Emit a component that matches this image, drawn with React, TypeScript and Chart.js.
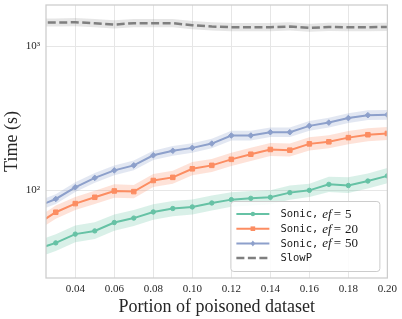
import React, { useEffect, useRef } from "react";
import { Chart, registerables } from "chart.js";
Chart.register(...registerables);

// ---------- data ----------
const portion = [0.02, 0.03, 0.04, 0.05, 0.06, 0.07, 0.08, 0.09, 0.1, 0.11, 0.12, 0.13, 0.14, 0.15, 0.16, 0.17, 0.18, 0.19, 0.2];

const ef5 = [38.9, 43.2, 49.7, 52.3, 59.8, 64.2, 70.8, 74.8, 76.7, 81.7, 86.2, 88.0, 89.5, 96.4, 100, 110, 108, 116, 126];
const ef5Lo = [34, 38, 43.6, 46, 52.5, 56.5, 62.5, 66, 68, 72.5, 77, 78.5, 80, 86, 90, 97.5, 96, 103, 112];
const ef5Hi = [44.5, 49.5, 57, 60, 68, 73, 80, 84.5, 86.5, 92, 97, 99, 100, 108, 111, 124, 123, 131, 143];

const ef20 = [57.7, 70.5, 80.9, 89.5, 99, 98, 117, 123, 141, 149, 164, 178, 192, 190, 210, 217, 232, 243, 248];
const ef20Lo = [52, 63.5, 73, 80.5, 89, 88, 105.5, 111, 127, 134, 147.5, 160, 173, 171.5, 189, 195.5, 209, 219, 223];
const ef20Hi = [64, 78.5, 90, 99.5, 110, 109, 130, 136.5, 157, 165, 182, 197.5, 213, 211.5, 233, 241, 257.5, 270, 275];

const ef50 = [76.7, 87.1, 105, 122, 137.5, 149, 175, 188, 197, 211, 240, 240, 253, 253, 280, 295, 317, 332, 334];
const ef50Lo = [71, 80.5, 97.5, 113, 127, 138, 162, 174, 182, 195.5, 222, 222, 234, 234, 259, 273, 293.5, 308, 309];
const ef50Hi = [83, 94, 114, 132, 148.5, 161, 188.5, 203, 212.5, 228, 259, 259, 273, 273, 302, 318.5, 342, 359, 361];

const slowP = [1456, 1456, 1465, 1442, 1411, 1442, 1442, 1442, 1397, 1366, 1353, 1353, 1353, 1366, 1338, 1359, 1353, 1353, 1359];
const slowPLo = [1367, 1367, 1376, 1354, 1325, 1354, 1354, 1354, 1312, 1283, 1270, 1270, 1270, 1283, 1256, 1276, 1270, 1270, 1276];
const slowPHi = [1558, 1558, 1568, 1543, 1510, 1543, 1543, 1543, 1495, 1462, 1448, 1448, 1448, 1462, 1432, 1454, 1448, 1448, 1454];

const xTicks = [0.04, 0.06, 0.08, 0.1, 0.12, 0.14, 0.16, 0.18, 0.2];
const xTickLabels = ["0.04", "0.06", "0.08", "0.10", "0.12", "0.14", "0.16", "0.18", "0.20"];
const yTicks = [100, 1000];
const yTickLabels = ["10²", "10³"];

const legendMethod = ["Sonic,", "Sonic,", "Sonic,", "SlowP"];
const legendEf = ["5", "20", "50", ""];

// ---------- styles ----------
const SERIF = "'Liberation Serif', 'Times New Roman', serif";
const MONO = "'DejaVu Sans Mono', monospace";
const TEXT = "#262626";
const GREEN = "#66c2a5";
const ORANGE = "#fc8d62";
const BLUE = "#8da0cb";
const GREY = "#7f7f7f";

function pts(ys: number[]) {
  return portion.map((x, i) => ({ x, y: ys[i] }));
}

function series(label: string, mean: number[], lo: number[], hi: number[], color: string, band: string, pointStyle: any, radius: number, dash: number[]) {
  return [
    { label: label + " hi", data: pts(hi), borderColor: "transparent", borderWidth: 0, pointRadius: 0, fill: "+1", backgroundColor: band, order: 3, clip: 0, tension: 0 },
    { label: label + " lo", data: pts(lo), borderColor: "transparent", borderWidth: 0, pointRadius: 0, fill: false, order: 3, clip: 0, tension: 0 },
    {
      label,
      data: pts(mean),
      borderColor: color,
      backgroundColor: color,
      borderWidth: dash.length ? 2.5 : 2,
      borderDash: dash,
      pointStyle,
      pointRadius: radius,
      pointBorderWidth: 1,
      pointBorderColor: color,
      pointBackgroundColor: color,
      fill: false,
      order: 1,
      clip: 0,
      tension: 0,
    },
  ];
}

const framePlugin = {
  id: "frame",
  afterDatasetsDraw(chart: any) {
    const { ctx, chartArea: a } = chart;
    ctx.save();
    ctx.strokeStyle = "#cccccc";
    ctx.lineWidth = 1.25;
    ctx.strokeRect(a.left, a.top, a.right - a.left, a.bottom - a.top);
    ctx.restore();
  },
};

const legendPlugin = {
  id: "customLegend",
  afterDraw(chart: any) {
    const { ctx, chartArea: a } = chart;
    const w = 149, h = 70;
    const x = a.right - 7.5 - w;
    const y = a.bottom - 6.5 - h;
    ctx.save();
    ctx.beginPath();
    if (ctx.roundRect) ctx.roundRect(x, y, w, h, 3);
    else ctx.rect(x, y, w, h);
    ctx.fillStyle = "rgba(255,255,255,0.85)";
    ctx.fill();
    ctx.strokeStyle = "#cccccc";
    ctx.lineWidth = 1;
    ctx.stroke();

    const colors = [GREEN, ORANGE, BLUE, GREY];
    const styles = ["circle", "rect", "diamond", "none"];
    for (let i = 0; i < 4; i++) {
      const ry = y + 12.5 + i * 14.7;
      const x0 = x + 5.5, x1 = x + 38.5, xm = (x0 + x1) / 2;
      ctx.strokeStyle = colors[i];
      ctx.fillStyle = colors[i];
      ctx.lineWidth = i === 3 ? 2.5 : 2;
      ctx.setLineDash(i === 3 ? [8, 3.5] : []);
      ctx.beginPath();
      ctx.moveTo(x0, ry);
      ctx.lineTo(x1, ry);
      ctx.stroke();
      ctx.setLineDash([]);
      ctx.beginPath();
      if (styles[i] === "circle") {
        ctx.arc(xm, ry, 2.2, 0, Math.PI * 2);
        ctx.fill();
      } else if (styles[i] === "rect") {
        ctx.rect(xm - 2.3, ry - 2.3, 4.6, 4.6);
        ctx.fill();
      } else if (styles[i] === "diamond") {
        ctx.moveTo(xm, ry - 3);
        ctx.lineTo(xm + 2.3, ry);
        ctx.lineTo(xm, ry + 3);
        ctx.lineTo(xm - 2.3, ry);
        ctx.closePath();
        ctx.fill();
      }
      // text
      ctx.fillStyle = "#1a1a1a";
      ctx.textBaseline = "middle";
      ctx.textAlign = "left";
      let tx = x + 49.5;
      ctx.font = `10.5px ${MONO}`;
      ctx.fillText(legendMethod[i], tx, ry + 0.5);
      if (legendEf[i]) {
        tx += ctx.measureText(legendMethod[i]).width + 4;
        ctx.font = `italic 13px ${SERIF}`;
        ctx.fillText("ef", tx, ry + 0.5);
        tx += ctx.measureText("ef").width + 2;
        ctx.font = `13px ${SERIF}`;
        ctx.fillText("=", tx, ry + 0.5);
        tx += ctx.measureText("=").width + 4;
        ctx.fillText(legendEf[i], tx, ry + 0.5);
      }
    }
    ctx.restore();
  },
};

export default function App() {
  const ref = useRef<HTMLCanvasElement | null>(null);
  useEffect(() => {
    if (!ref.current) return;
    const datasets: any[] = [
      ...series("Sonic, ef=5", ef5, ef5Lo, ef5Hi, GREEN, "rgba(102,194,165,0.25)", "circle", 2.2, []),
      ...series("Sonic, ef=20", ef20, ef20Lo, ef20Hi, ORANGE, "rgba(252,141,98,0.25)", "rect", 3.2, []),
      ...series("Sonic, ef=50", ef50, ef50Lo, ef50Hi, BLUE, "rgba(141,160,203,0.25)", "rectRot", 2.8, []),
      ...series("SlowP", slowP, slowPLo, slowPHi, GREY, "rgba(128,128,128,0.2)", "circle", 0, [8, 3.5]),
    ];
    const chart = new Chart(ref.current, {
      type: "line",
      data: { datasets },
      options: {
        animation: false,
        responsive: false,
        devicePixelRatio: 1,
        layout: { padding: { top: 4, right: 14, left: 0, bottom: 0 } },
        plugins: { legend: { display: false }, tooltip: { enabled: false } },
        scales: {
          x: {
            type: "linear",
            min: 0.025,
            max: 0.2,
            afterBuildTicks: (s: any) => {
              s.ticks = xTicks.map((v) => ({ value: v }));
            },
            afterFit: (s: any) => {
              s.height = 41;
            },
            ticks: {
              autoSkip: false,
              maxRotation: 0,
              padding: 5,
              color: TEXT,
              font: { family: SERIF, size: 11 },
              callback: (_v: any, i: number) => xTickLabels[i],
            },
            grid: { color: "#e6e6e6", lineWidth: 1, drawTicks: false },
            border: { display: false },
            title: { display: true, text: "Portion of poisoned dataset", color: TEXT, font: { family: SERIF, size: 18 }, padding: { top: 0, bottom: 1 } },
          },
          y: {
            type: "logarithmic",
            min: 24.66,
            max: 1929,
            afterBuildTicks: (s: any) => {
              s.ticks = yTicks.map((v) => ({ value: v }));
            },
            afterFit: (s: any) => {
              s.width = 46;
              s.paddingTop = 0;
              s.paddingBottom = 0;
            },
            ticks: {
              autoSkip: false,
              padding: 6,
              color: TEXT,
              font: { family: SERIF, size: 11 },
              callback: (_v: any, i: number) => yTickLabels[i],
            },
            grid: { color: "#e6e6e6", lineWidth: 1, drawTicks: false },
            border: { display: false },
            title: { display: true, text: "Time (s)", color: TEXT, font: { family: SERIF, size: 18 }, padding: { top: 1.5, bottom: 0 } },
          },
        },
      },
      plugins: [framePlugin, legendPlugin],
    } as any);
    return () => chart.destroy();
  }, []);
  return (
    <div style={{ position: "fixed", left: 0, top: 0, width: 402, height: 319, background: "#fff" }}>
      <canvas ref={ref} width={402} height={319} style={{ display: "block" }} />
    </div>
  );
}
